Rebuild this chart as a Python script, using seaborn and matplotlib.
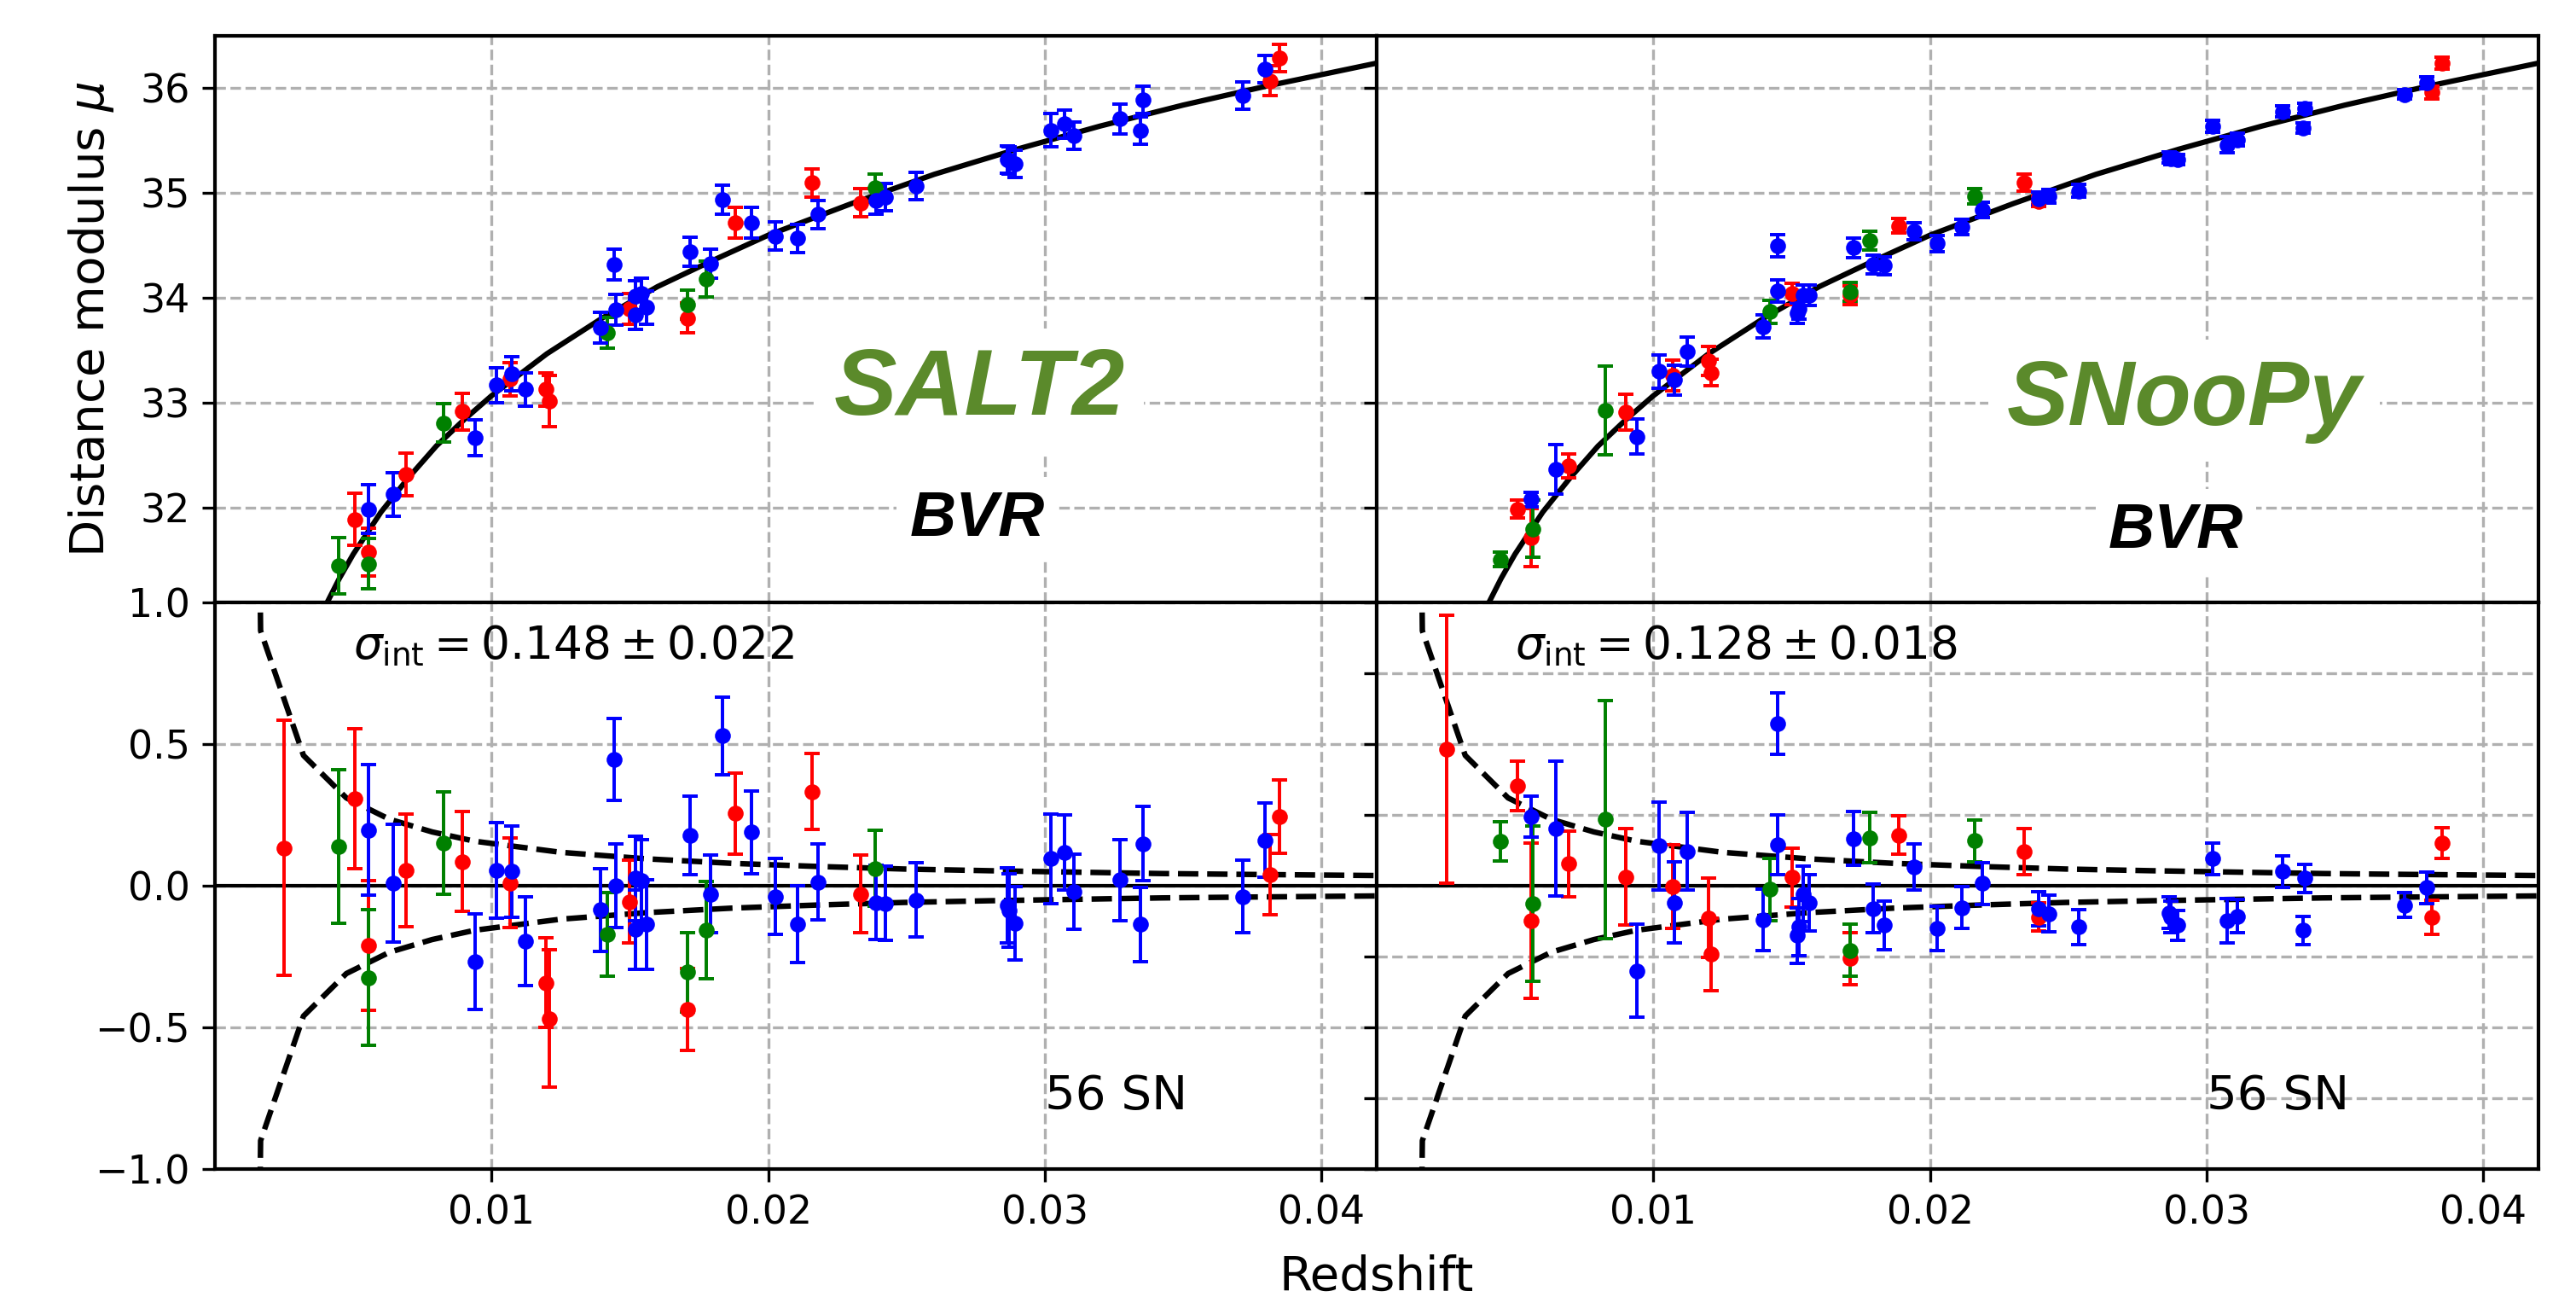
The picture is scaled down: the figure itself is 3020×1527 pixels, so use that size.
import numpy as np
import matplotlib
matplotlib.use("Agg")
import matplotlib.pyplot as plt
import seaborn as sns

# ---------------- data ----------------
# SALT2 fit: redshift, distance modulus, Hubble residual, error
salt2_red_z = [0.00251, 0.00506, 0.00555, 0.00691, 0.00895, 0.01067, 0.01197, 0.01208,
               0.01499, 0.01708, 0.01882, 0.02160, 0.02333, 0.03814, 0.03849]
salt2_red_mu = [30.19, 31.89, 31.58, 32.32, 32.92, 33.23, 33.13, 33.02,
                33.90, 33.81, 34.72, 35.10, 34.91, 36.07, 36.29]
salt2_red_res = [0.134, 0.308, -0.211, 0.054, 0.085, 0.010, -0.342, -0.469,
                 -0.057, -0.436, 0.255, 0.332, -0.029, 0.039, 0.244]
salt2_red_err = [0.449, 0.247, 0.230, 0.200, 0.176, 0.159, 0.158, 0.243,
                 0.146, 0.144, 0.144, 0.134, 0.138, 0.142, 0.131]

salt2_green_z = [0.00446, 0.00556, 0.00826, 0.01419, 0.01708, 0.01777, 0.02388]
salt2_green_mu = [31.45, 31.47, 32.81, 33.67, 33.94, 34.18, 35.05]
salt2_green_res = [0.138, -0.324, 0.150, -0.171, -0.305, -0.157, 0.061]
salt2_green_err = [0.272, 0.240, 0.181, 0.147, 0.140, 0.171, 0.134]

salt2_blue_z = [0.00555, 0.00646, 0.00941, 0.01018, 0.01073, 0.01123, 0.01394, 0.01444,
                0.01448, 0.01521, 0.01541, 0.01521, 0.01559, 0.01718, 0.01793, 0.01835,
                0.01939, 0.02025, 0.02105, 0.02181, 0.02391, 0.02425, 0.02536, 0.02865,
                0.02872, 0.02892, 0.03022, 0.03070, 0.03105, 0.03272, 0.03355, 0.03345,
                0.03717, 0.03797]
salt2_blue_mu = [31.99, 32.13, 32.67, 33.17, 33.28, 33.13, 33.72, 34.32,
                 33.89, 34.02, 34.04, 33.84, 33.91, 34.44, 34.33, 34.94,
                 34.72, 34.59, 34.57, 34.80, 34.93, 34.96, 35.07, 35.32,
                 35.31, 35.28, 35.60, 35.66, 35.55, 35.71, 35.89, 35.60,
                 35.93, 36.18]
salt2_blue_res = [0.197, 0.010, -0.268, 0.054, 0.050, -0.195, -0.085, 0.445,
                  0.000, 0.026, 0.017, -0.155, -0.136, 0.178, -0.029, 0.529,
                  0.189, -0.038, -0.136, 0.013, -0.059, -0.063, -0.050, -0.070,
                  -0.087, -0.133, 0.095, 0.117, -0.022, 0.020, 0.149, -0.136,
                  -0.038, 0.161]
salt2_blue_err = [0.231, 0.208, 0.170, 0.168, 0.161, 0.157, 0.146, 0.144,
                  0.147, 0.150, 0.147, 0.140, 0.158, 0.138, 0.138, 0.138,
                  0.146, 0.134, 0.135, 0.134, 0.132, 0.131, 0.132, 0.133,
                  0.130, 0.130, 0.157, 0.133, 0.132, 0.143, 0.131, 0.131,
                  0.129, 0.131]

# SNooPy fit
snoopy_red_z = [0.00252, 0.00508, 0.00559, 0.00695, 0.00900, 0.01070, 0.01199, 0.01208,
                0.01502, 0.01710, 0.01886, 0.02339, 0.02393, 0.03850, 0.03814]
snoopy_red_mu = [30.59, 31.99, 31.72, 32.40, 32.91, 33.26, 33.40, 33.29,
                 34.04, 34.03, 34.69, 35.10, 34.92, 36.24, 35.96]
snoopy_red_res = [0.483, 0.352, -0.123, 0.078, 0.031, -0.003, -0.114, -0.242,
                  0.030, -0.257, 0.179, 0.120, -0.110, 0.151, -0.111]
snoopy_red_err = [0.473, 0.087, 0.275, 0.116, 0.171, 0.147, 0.140, 0.127,
                  0.104, 0.091, 0.069, 0.082, 0.050, 0.055, 0.060]

snoopy_green_z = [0.00447, 0.00564, 0.00826, 0.01423, 0.01710, 0.01782, 0.02162]
snoopy_green_mu = [31.51, 31.80, 32.93, 33.87, 34.06, 34.55, 34.97]
snoopy_green_res = [0.157, -0.063, 0.234, -0.013, -0.228, 0.170, 0.159]
snoopy_green_err = [0.070, 0.273, 0.421, 0.110, 0.091, 0.089, 0.074]

snoopy_blue_z = [0.00557, 0.00649, 0.00941, 0.01022, 0.01076, 0.01123, 0.01398, 0.01449,
                 0.01449, 0.01542, 0.01562, 0.01527, 0.01520, 0.01723, 0.01795, 0.01835,
                 0.01942, 0.02027, 0.02115, 0.02189, 0.02392, 0.02430, 0.02537, 0.02865,
                 0.02870, 0.02897, 0.03021, 0.03075, 0.03111, 0.03274, 0.03354, 0.03348,
                 0.03717, 0.03796]
snoopy_blue_mu = [32.08, 32.37, 32.68, 33.30, 33.22, 33.49, 33.73, 34.50,
                  34.07, 34.03, 34.03, 33.90, 33.86, 34.48, 34.32, 34.31,
                  34.64, 34.52, 34.68, 34.84, 34.95, 34.97, 35.02, 35.34,
                  35.33, 35.32, 35.64, 35.46, 35.51, 35.78, 35.81, 35.62,
                  35.94, 36.05]
snoopy_blue_res = [0.245, 0.202, -0.300, 0.141, -0.059, 0.121, -0.120, 0.572,
                   0.145, -0.029, -0.061, -0.146, -0.175, 0.167, -0.081, -0.140,
                   0.067, -0.150, -0.077, 0.008, -0.081, -0.098, -0.146, -0.095,
                   -0.110, -0.140, 0.095, -0.124, -0.107, 0.050, 0.026, -0.157,
                   -0.068, -0.007]
snoopy_blue_err = [0.072, 0.237, 0.165, 0.155, 0.142, 0.137, 0.109, 0.108,
                   0.106, 0.098, 0.099, 0.100, 0.098, 0.094, 0.086, 0.086,
                   0.082, 0.078, 0.075, 0.074, 0.060, 0.065, 0.061, 0.055,
                   0.057, 0.052, 0.057, 0.078, 0.060, 0.055, 0.050, 0.050,
                   0.044, 0.056]

# Hubble-law curve (top panels)
curve_z = [0.0038, 0.0040, 0.0045, 0.0050, 0.0060, 0.0070, 0.0080, 0.0090, 0.0100, 0.0120,
           0.0140, 0.0160, 0.0180, 0.0200, 0.0230, 0.0260, 0.0290, 0.0320, 0.0350, 0.0380,
           0.0420]
curve_mu = [30.96, 31.07, 31.33, 31.56, 31.96, 32.29, 32.59, 32.84, 33.07, 33.47,
            33.81, 34.11, 34.36, 34.60, 34.90, 35.18, 35.42, 35.64, 35.84, 36.02,
            36.24]

# peculiar-velocity envelope (bottom panels)
envelope_z = [0.0001, 0.00165, 0.0032, 0.00475, 0.0063, 0.00785, 0.0094, 0.0125, 0.0156,
              0.0187, 0.0218, 0.0249, 0.0280, 0.0311, 0.0342, 0.0373, 0.0420]
envelope_r = [14.8, 0.90, 0.46, 0.31, 0.235, 0.19, 0.157, 0.118, 0.095,
              0.079, 0.068, 0.059, 0.053, 0.048, 0.043, 0.040, 0.036]

panels = {
    "SALT2": {
        "red": (salt2_red_z, salt2_red_mu, salt2_red_res, salt2_red_err),
        "green": (salt2_green_z, salt2_green_mu, salt2_green_res, salt2_green_err),
        "blue": (salt2_blue_z, salt2_blue_mu, salt2_blue_res, salt2_blue_err),
    },
    "SNooPy": {
        "red": (snoopy_red_z, snoopy_red_mu, snoopy_red_res, snoopy_red_err),
        "green": (snoopy_green_z, snoopy_green_mu, snoopy_green_res, snoopy_green_err),
        "blue": (snoopy_blue_z, snoopy_blue_mu, snoopy_blue_res, snoopy_blue_err),
    },
}
sigma_text = {"SALT2": r"$\sigma_{\rm int} = 0.148 \pm 0.022$",
              "SNooPy": r"$\sigma_{\rm int} = 0.128 \pm 0.018$"}
n_sn = "56 SN"

palette = {"red": "#ff0000", "green": "#008000", "blue": "#0000ff"}
label_green = "#5b8a2b"

# ---------------- style ----------------
sns.set_style("ticks", rc={"axes.edgecolor": "black", "xtick.color": "black",
                           "ytick.color": "black", "text.color": "black",
                           "axes.labelcolor": "black"})
plt.rcParams["font.family"] = ["DejaVu Sans"]
plt.rcParams["mathtext.fontset"] = "dejavusans"

fig, axes = plt.subplots(2, 2, figsize=(3020 / 300, 1527 / 300), dpi=300)
fig.subplots_adjust(left=252 / 3020, right=2976 / 3020, top=1 - 42 / 1527,
                    bottom=1 - 1370 / 1527, hspace=0, wspace=0)

grid_kw = dict(linestyle="--", color="#b0b0b0", linewidth=0.8)


def draw_points(ax, groups, which):
    for name in ["red", "green", "blue"]:
        z, mu, res, err = groups[name]
        y = mu if which == "mu" else res
        ax.errorbar(z, y, yerr=err, fmt="none", ecolor=palette[name], elinewidth=0.95,
                    capsize=2.2, capthick=0.95, zorder=3)
        sns.scatterplot(x=z, y=y, color=palette[name], s=20, linewidth=0, ax=ax,
                        zorder=4, legend=False)


for col, fitter in enumerate(["SALT2", "SNooPy"]):
    ax_top = axes[0, col]
    ax_bot = axes[1, col]

    # top: distance modulus
    draw_points(ax_top, panels[fitter], "mu")
    sns.lineplot(x=curve_z, y=curve_mu, color="black", linewidth=1.5, ax=ax_top,
                 zorder=2, sort=False, estimator=None)
    ax_top.set_xlim(0, 0.042)
    ax_top.set_ylim(31.1, 36.5)
    ax_top.set_yticks([32, 33, 34, 35, 36])
    ax_top.set_xticks([0.01, 0.02, 0.03, 0.04])
    ax_top.tick_params(axis="x", length=0, labelbottom=False)

    # bottom: residuals
    draw_points(ax_bot, panels[fitter], "res")
    sns.lineplot(x=envelope_z, y=envelope_r, color="black", linestyle="--", linewidth=1.55,
                 ax=ax_bot, zorder=2, sort=False, estimator=None)
    sns.lineplot(x=envelope_z, y=[-v for v in envelope_r], color="black", linestyle="--",
                 linewidth=1.55, ax=ax_bot, zorder=2, sort=False, estimator=None)
    ax_bot.axhline(0, color="black", linewidth=1.0, zorder=2)
    ax_bot.set_xlim(0, 0.042)
    ax_bot.set_ylim(-1, 1)
    ax_bot.set_xticks([0.01, 0.02, 0.03, 0.04])
    if fitter == "SALT2":
        ax_bot.set_yticks([-1.0, -0.5, 0.0, 0.5, 1.0])
    else:
        ax_bot.set_yticks(np.arange(-1.0, 1.01, 0.25))

    ax_bot.text(0.005, 0.8, sigma_text[fitter], fontsize=12.8, va="baseline")
    ax_bot.text(0.03, -0.79, n_sn, fontsize=13.5, va="baseline")

    for ax in (ax_top, ax_bot):
        ax.set_axisbelow(True)
        ax.grid(True, **grid_kw)
        ax.set_xlabel("")
        ax.set_ylabel("")
        ax.tick_params(direction="out", length=3.5, width=0.8, labelsize=11)
        for sp in ax.spines.values():
            sp.set_linewidth(1.0)
            sp.set_visible(True)
        if col == 1:
            ax.tick_params(axis="y", labelleft=False)

box = dict(facecolor="white", edgecolor="none", boxstyle="square,pad=0.2")
axes[0, 0].text(0.658, 0.331, "SALT2", transform=axes[0, 0].transAxes, ha="center",
                va="baseline", fontsize=26.5, color=label_green, fontweight="bold",
                fontstyle="italic", family="Liberation Sans", bbox=box, zorder=5)
axes[0, 0].text(0.656, 0.117, "BVR", transform=axes[0, 0].transAxes, ha="center",
                va="baseline", fontsize=18, color="black", fontweight="bold",
                fontstyle="italic", family="Liberation Sans", bbox=box, zorder=5)
axes[0, 1].text(0.695, 0.314, "SNooPy", transform=axes[0, 1].transAxes, ha="center",
                va="baseline", fontsize=26, color=label_green, fontweight="bold",
                fontstyle="italic", family="Liberation Sans", bbox=box, zorder=5)
axes[0, 1].text(0.688, 0.097, "BVR", transform=axes[0, 1].transAxes, ha="center",
                va="baseline", fontsize=18, color="black", fontweight="bold",
                fontstyle="italic", family="Liberation Sans", bbox=box, zorder=5)

axes[0, 0].set_ylabel(r"Distance modulus $\mu$", fontsize=13.5)
axes[0, 0].yaxis.set_label_coords(-0.085, 0.5)
fig.text(1614 / 3020, 1 - 1497 / 1527, "Redshift", ha="center", va="center", fontsize=13.5)

fig.savefig("out.png", dpi=300)
